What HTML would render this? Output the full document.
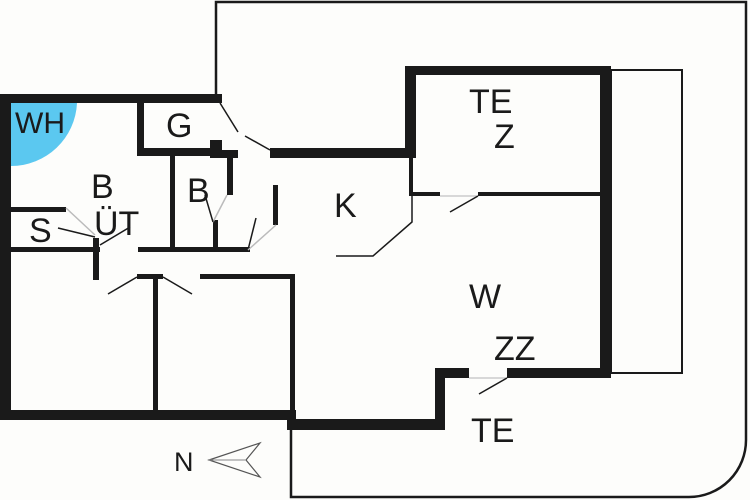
<!DOCTYPE html>
<html><head><style>
html,body{margin:0;padding:0;background:#fdfdfb;}
svg{display:block;}
text{font-family:"Liberation Sans",sans-serif;fill:#1a1a1a;}
</style></head><body>
<svg width="750" height="500" viewBox="0 0 750 500" xmlns="http://www.w3.org/2000/svg">
<rect width="750" height="500" fill="#fdfdfb"/>
<path d="M216 96 V2 H746 V440 A57 57 0 0 1 689 497 H291 V428" fill="none" stroke="#1a1a1a" stroke-width="2.5"/>
<rect x="611" y="70" width="71" height="303" fill="none" stroke="#1a1a1a" stroke-width="2"/>
<path d="M11 103 H77 A66 66 0 0 1 11 166 Z" fill="#5bc8f0"/>
<g fill="#1a1a1a">
<rect x="0" y="94" width="222" height="9"/>
<rect x="0" y="94" width="11" height="326"/>
<rect x="0" y="410" width="296" height="10"/>
<rect x="287" y="410" width="9" height="20"/>
<rect x="287" y="419" width="158" height="11"/>
<rect x="435" y="368" width="10" height="62"/>
<rect x="435" y="368" width="34" height="10"/>
<rect x="507" y="368" width="104" height="10"/>
<rect x="600" y="66" width="11" height="312"/>
<rect x="405" y="66" width="206" height="9"/>
<rect x="405" y="66" width="11" height="92"/>
<rect x="409" y="150" width="4" height="45"/>
<rect x="409" y="192" width="31" height="4"/>
<rect x="478" y="192" width="124" height="4"/>
<rect x="270" y="148" width="145" height="10"/>
<rect x="137" y="100" width="7" height="56"/>
<rect x="137" y="148" width="80" height="8"/>
<rect x="210" y="140" width="12" height="18"/>
<rect x="210" y="150" width="28" height="8"/>
<rect x="170" y="155" width="5" height="97"/>
<rect x="227" y="155" width="6" height="40"/>
<rect x="213" y="220" width="5" height="32"/>
<rect x="138" y="247" width="112" height="5"/>
<rect x="273" y="185" width="5" height="40"/>
<rect x="11" y="207" width="55" height="5"/>
<rect x="11" y="247" width="89" height="5"/>
<rect x="93" y="238" width="6" height="42"/>
<rect x="200" y="274" width="95" height="5"/>
<rect x="290" y="274" width="5" height="140"/>
<rect x="153" y="277" width="5" height="136"/>
<rect x="137" y="274" width="26" height="5"/>
</g>
<g stroke="#1a1a1a" stroke-width="1.5" fill="none">
<line x1="220" y1="103" x2="238" y2="132"/>
<line x1="245" y1="136" x2="270" y2="150"/>
<line x1="440" y1="196" x2="478" y2="196" stroke="#ccc"/>
<line x1="450" y1="212" x2="478" y2="196"/>
<path d="M412 195 V222 L373 256 H336"/>
<line x1="469" y1="378" x2="507" y2="378" stroke="#ccc"/>
<line x1="479" y1="394" x2="507" y2="378"/>
<line x1="137" y1="277" x2="108" y2="294"/>
<line x1="163" y1="277" x2="192" y2="294"/>
<line x1="58" y1="228" x2="95" y2="237"/>
<line x1="100" y1="245" x2="130" y2="227"/>
<line x1="66" y1="208" x2="95" y2="235" stroke="#bbb"/>
<line x1="213" y1="222" x2="227" y2="195" stroke="#bbb"/>
<line x1="213" y1="222" x2="205" y2="195"/>
<line x1="248" y1="250" x2="256" y2="218"/>
<line x1="248" y1="250" x2="276" y2="225" stroke="#bbb"/>
</g>
<g font-size="34">
<text x="15" y="133" font-size="30">WH</text>
<text x="166" y="137">G</text>
<text x="91" y="198">B</text>
<text x="94" y="235">ÜT</text>
<text x="29" y="242">S</text>
<text x="187" y="202">B</text>
<text x="334" y="217">K</text>
<text x="469" y="113">TE</text>
<text x="494" y="148">Z</text>
<text x="469" y="308">W</text>
<text x="494" y="360">ZZ</text>
<text x="471" y="442">TE</text>
<text x="174" y="471" font-size="27">N</text>
</g>
<path d="M209 460 L260 443 L246 460 L260 477 Z" fill="none" stroke="#555" stroke-width="1.2"/>
<line x1="209" y1="460" x2="246" y2="460" stroke="#888" stroke-width="1"/>
</svg>
</body></html>
